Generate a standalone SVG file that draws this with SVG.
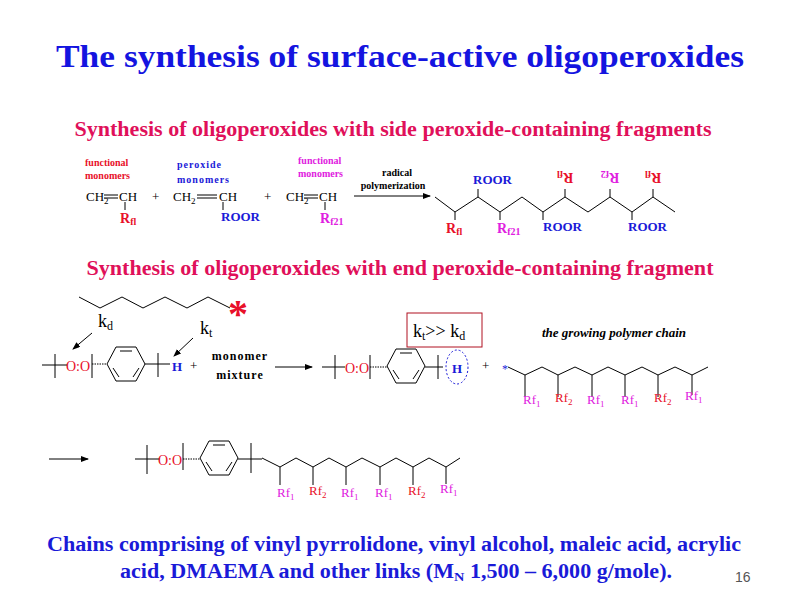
<svg xmlns="http://www.w3.org/2000/svg" width="800" height="600" viewBox="0 0 800 600" font-family="'Liberation Serif', serif">
<style>
text, tspan{font-family:'Liberation Serif', serif}
.b{font-weight:bold}
.red{fill:#e8102a}.mag{fill:#e020e0}.blu{fill:#1a1ad8}
.ln{stroke:#000;stroke-width:1;fill:none}
.sm{font-size:10px;font-weight:bold}
</style>
<defs>
<marker id="ah" markerWidth="8" markerHeight="6" refX="7" refY="3" orient="auto"><path d="M0,0L8,3L0,6z" fill="#000"/></marker>
<g id="benz"><path class="ln" d="M-19,0L-10,-17L10,-17L19,0L10,17L-10,17Z M-6,-13L6,-13 M13,4L7,13 M-13,4L-7,13"/></g>
</defs>
<rect width="800" height="600" fill="#fff"/>
<text x="400" y="67" text-anchor="middle" class="b" font-size="32" fill="#1414e0" textLength="688" lengthAdjust="spacingAndGlyphs">The synthesis of surface-active oligoperoxides</text>
<text x="393" y="136" text-anchor="middle" class="b" font-size="20" fill="#e0105a" textLength="637" lengthAdjust="spacingAndGlyphs">Synthesis of oligoperoxides with side peroxide-containing fragments</text>
<text x="400" y="275" text-anchor="middle" class="b" font-size="20" fill="#e0105a" textLength="627" lengthAdjust="spacingAndGlyphs">Synthesis of oligoperoxides with end peroxide-containing fragment</text>

<g id="monomer1">
<text x="85" y="166" class="sm red">functional</text><text x="85" y="179" class="sm red">monomers</text>
<text x="86" y="201" font-size="13">CH<tspan font-size="9" dy="3">2</tspan></text>
<path class="ln" d="M104,195H118M104,198H118M125,202V210"/>
<text x="119" y="201" font-size="13">CH</text>
<text x="120" y="223" class="red b" font-size="14">R<tspan font-size="10" dy="2">fl</tspan></text>
<text x="152" y="201" font-size="13">+</text>
</g>
<g id="monomer2">
<text x="177" y="168" class="sm blu" letter-spacing="1">peroxide</text><text x="177" y="183" class="sm blu" letter-spacing="1">monomers</text>
<text x="173" y="201" font-size="13">CH<tspan font-size="9" dy="3">2</tspan></text>
<path class="ln" d="M197,195H217M197,198H217M223,202V210"/>
<text x="219" y="201" font-size="13">CH</text>
<text x="221" y="221" class="blu b" font-size="13">ROOR</text>
<text x="264" y="201" font-size="13">+</text>
</g>
<g id="monomer3">
<text x="298" y="164" class="sm mag">functional</text><text x="298" y="177" class="sm mag">monomers</text>
<text x="286" y="201" font-size="13">CH<tspan font-size="9" dy="3">2</tspan></text>
<path class="ln" d="M304,195H318M304,198H318M325,202V210"/>
<text x="319" y="201" font-size="13">CH</text>
<text x="320" y="223" class="mag b" font-size="14">R<tspan font-size="10" dy="2">f21</tspan></text>
</g>
<g id="chain1">
<text x="397" y="176" text-anchor="middle" class="sm">radical</text>
<text x="393" y="189" text-anchor="middle" class="sm">polymerization</text>
<path class="ln" d="M435,197L455,212L478,197L500,212L522,197L543,212L565,197L588,212L610,197L632,212L653,197L675,212M455,212V220M478,197V189M500,212V220M543,212V220M565,197V189M610,197V189M632,212V220M653,197V189"/>
<text x="473" y="184" class="blu b" font-size="13">ROOR</text>
<text x="446" y="233" class="red b" font-size="14">R<tspan font-size="10" dy="2">fl</tspan></text>
<text x="497" y="233" class="mag b" font-size="14">R<tspan font-size="10" dy="2">f21</tspan></text>
<text x="543" y="231" class="blu b" font-size="13">ROOR</text>
<text x="628" y="231" class="blu b" font-size="13">ROOR</text>
<text transform="rotate(180 565 178)" x="565" y="183" text-anchor="middle" class="red b" font-size="14">R<tspan font-size="10" dy="2">fl</tspan></text>
<text transform="rotate(180 610 178)" x="610" y="183" text-anchor="middle" class="mag b" font-size="14">R<tspan font-size="10" dy="2">f2</tspan></text>
<text transform="rotate(180 653 178)" x="653" y="183" text-anchor="middle" class="red b" font-size="14">R<tspan font-size="10" dy="2">fl</tspan></text>
</g>

<g id="radical">
<path class="ln" d="M79,297L100,308L122,297L143,308L165,297L187,308L208,297L230,308"/>
<text x="238" y="327" text-anchor="middle" class="red b" font-size="40">*</text>
<text x="98" y="327" font-size="18">k<tspan font-size="12" dy="3">d</tspan></text>
<text x="200" y="334" font-size="18">k<tspan font-size="12" dy="3">t</tspan></text>
</g>
<g id="mol1">
<path class="ln" d="M42,365H67M55,354V378M92,354V378M145,364H170M158,353V377"/>
<path class="ln" stroke-dasharray="1.5,1" stroke-width="2" d="M92,364H107"/>
<use href="#benz" x="126" y="364"/>
<text x="66" y="371" class="red" font-size="14">O:O</text>
<text x="172" y="371" class="blu b" font-size="13">H</text>
<text x="190" y="370" font-size="13">+</text>
<text x="240" y="360" text-anchor="middle" class="b" font-size="12" letter-spacing="1">monomer</text>
<text x="240" y="379" text-anchor="middle" class="b" font-size="12" letter-spacing="1">mixture</text>
</g>
<g id="mol2">
<path class="ln" d="M322,367H345M335,355V379M370,355V379M425,367H443M438,355V379"/>
<path class="ln" stroke-dasharray="1.5,1" stroke-width="2" d="M370,367H388"/>
<use href="#benz" x="406" y="366"/>
<text x="345" y="373" class="red" font-size="14">O:O</text>
<ellipse cx="457" cy="367" rx="11" ry="17" fill="none" stroke="#1a1ad8" stroke-dasharray="2,2"/>
<text x="452" y="373" class="blu b" font-size="13">H</text>
<text x="482" y="370" font-size="13">+</text>
<rect x="407" y="313" width="75" height="34" fill="none" stroke="#b01020"/>
<text x="413" y="337" font-size="18">k<tspan font-size="12" dy="3">t</tspan><tspan dy="-3">&gt;&gt; k</tspan><tspan font-size="12" dy="3">d</tspan></text>
</g>
<g id="chain2">
<text x="542" y="337" class="b" font-style="italic" font-size="13">the growing polymer chain</text>
<text x="502" y="373" class="blu" font-size="12">*</text>
<path class="ln" d="M508,367L525,375L542,367L558,375L575,367L592,375L608,367L625,375L642,367L658,375L675,367L692,375L708,367M525,375V397M558,375V397M592,375V397M625,375V397M658,375V397M692,375V395"/>
<g font-size="13"><text x="523" y="404" class="mag">Rf<tspan font-size="9" dy="3">1</tspan></text>
<text x="555" y="402" class="red">Rf<tspan font-size="9" dy="3">2</tspan></text>
<text x="587" y="404" class="mag">Rf<tspan font-size="9" dy="3">1</tspan></text>
<text x="621" y="404" class="mag">Rf<tspan font-size="9" dy="3">1</tspan></text>
<text x="654" y="402" class="red">Rf<tspan font-size="9" dy="3">2</tspan></text>
<text x="685" y="400" class="mag">Rf<tspan font-size="9" dy="3">1</tspan></text></g>
</g>
<g id="mol3">
<path class="ln" d="M135,459H160M147,445V474M183,443V470M238,459H262M251,443V473"/>
<path class="ln" stroke-dasharray="1.5,1" stroke-width="2" d="M183,459H200"/>
<use href="#benz" x="219" y="458"/>
<text x="158" y="465" class="red" font-size="14">O:O</text>
<path class="ln" d="M262,458L280,467L296,458L313,467L329,458L346,467L362,458L380,467L396,458L413,467L429,458L446,467L460,458M280,467V485M313,467V485M346,467V485M380,467V485M413,467V485M446,467V484"/>
<g font-size="13"><text x="277" y="497" class="mag">Rf<tspan font-size="9" dy="3">1</tspan></text>
<text x="309" y="495" class="red">Rf<tspan font-size="9" dy="3">2</tspan></text>
<text x="341" y="497" class="mag">Rf<tspan font-size="9" dy="3">1</tspan></text>
<text x="375" y="497" class="mag">Rf<tspan font-size="9" dy="3">1</tspan></text>
<text x="408" y="495" class="red">Rf<tspan font-size="9" dy="3">2</tspan></text>
<text x="440" y="493" class="mag">Rf<tspan font-size="9" dy="3">1</tspan></text></g>
</g>
<g id="connectors">
<path class="ln" d="M354,196H430" marker-end="url(#ah)"/>
<path class="ln" d="M92,333L73,349" marker-end="url(#ah)"/>
<path class="ln" d="M193,338L174,356" marker-end="url(#ah)"/>
<path class="ln" d="M275,367H312" marker-end="url(#ah)"/>
<path class="ln" d="M49,459H88" marker-end="url(#ah)"/>
</g>
<text x="394" y="551" text-anchor="middle" class="b blu" font-size="20" textLength="694" lengthAdjust="spacingAndGlyphs">Chains comprising of vinyl pyrrolidone, vinyl alcohol, maleic acid, acrylic</text>
<text x="396" y="578" text-anchor="middle" class="b blu" font-size="20" textLength="552" lengthAdjust="spacingAndGlyphs">acid, DMAEMA and other links (M<tspan font-size="13" dy="3">N</tspan><tspan dy="-3"> 1,500 – 6,000 g/mole).</tspan></text>
<text x="735" y="582" font-size="14" fill="#555" style="font-family:'Liberation Sans',sans-serif">16</text>
</svg>
